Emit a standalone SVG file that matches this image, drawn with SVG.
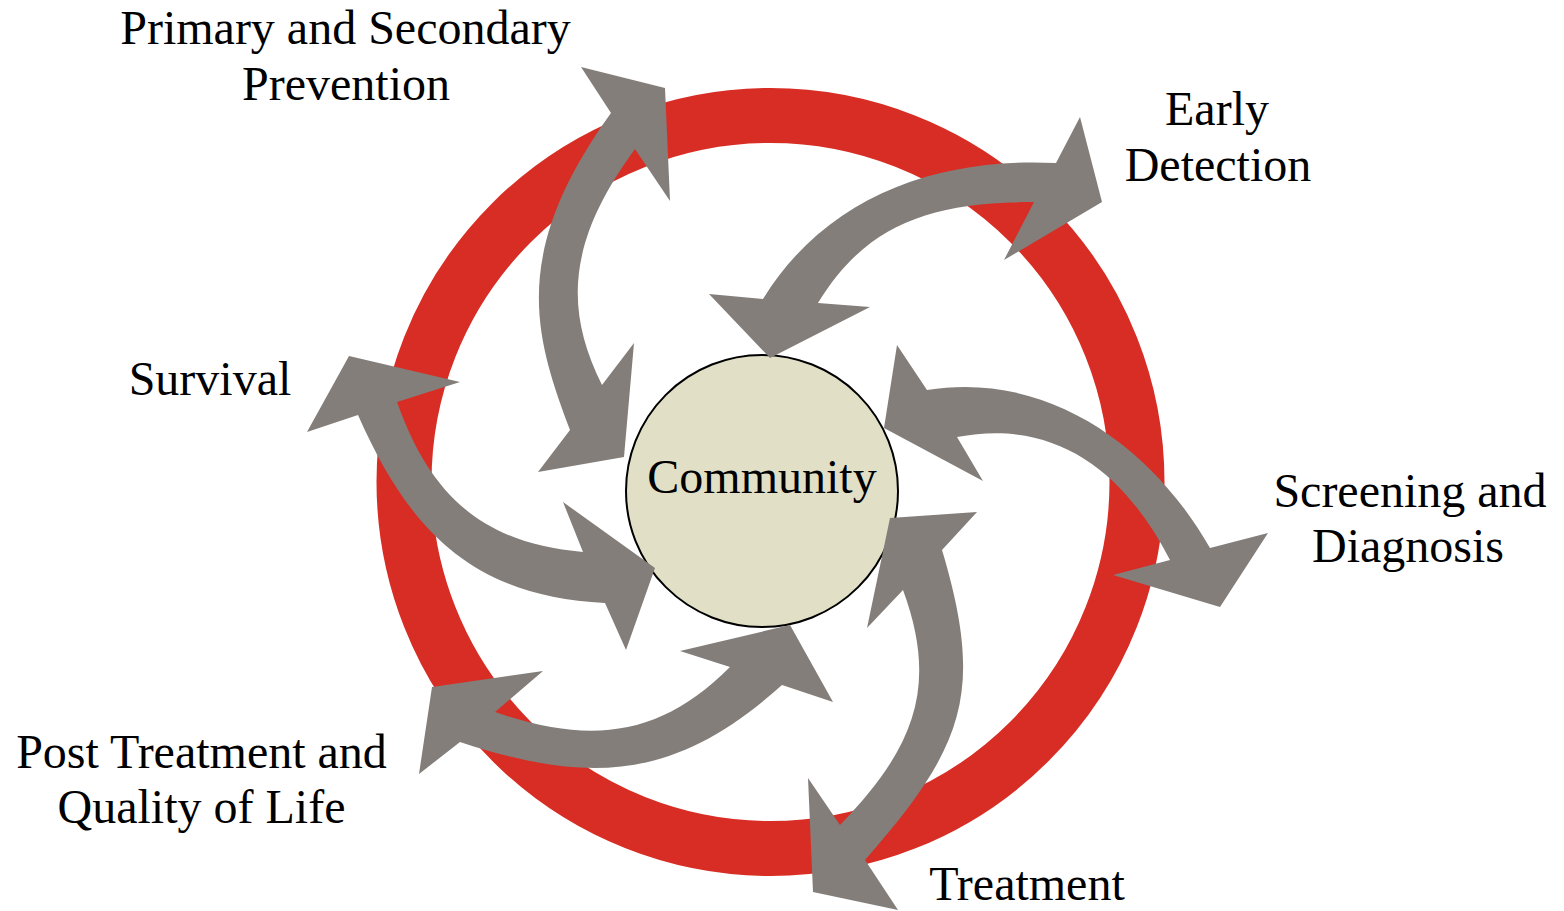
<svg xmlns="http://www.w3.org/2000/svg" width="1564" height="911" viewBox="0 0 1564 911">
<style>
.lbl{font-family:"Liberation Serif","Times New Roman",serif;font-size:48px;fill:#000;text-anchor:middle}
.arw{fill:#837e7a;stroke:none}
</style>
<rect x="0" y="0" width="1564" height="911" fill="#ffffff"/>
<g id="ring">
<circle cx="770.5" cy="482" r="366.5" fill="none" stroke="#d82d24" stroke-width="55"/>
</g>
<g id="community">
<circle cx="762" cy="491" r="136" fill="#e1dfc6" stroke="#000" stroke-width="2"/>
<text class="lbl" x="762" y="493">Community</text>
</g>
<g id="connectors">
<path class="arw" d="M 611,113 C 508.3,255 535.4,337.3 570,430 L 538,472 L 624,457 L 634,343 L 602,385 C 563.3,307.7 568.5,239.6 635,149 L 670,201 L 665,88 L 581,67 Z"/>
<path class="arw" d="M 1056,163 L 1080,117 L 1102,202 L 1004,260 L 1034,202 C 930,202 866,224.4 818,303 L 870,307 L 770,358 L 709,294 L 763,299 C 825.9,196.8 936.1,157 1056,163 Z"/>
<path class="arw" d="M 927,390 C 1045.4,370.8 1150.5,443.8 1210,548 L 1268,533 L 1220,607 L 1113,575 L 1170,560 C 1124.2,471.1 1055.2,418.1 957,437 L 983,481 L 884,428 L 897,345 Z"/>
<path class="arw" d="M 942,550 L 977,512 L 890,518 L 867,628 L 903,590 C 939.4,688.5 912.9,749.4 840,825 L 808,778 L 813,892 L 898,910 L 865,860 C 963.9,747 985,693.7 942,550 Z"/>
<path class="arw" d="M 730,667 L 680,651 L 790,625 L 833,702 L 782,685 C 677.8,778.5 592.9,786.1 460,742 L 419,774 L 432,687 L 543,671 L 495,712 C 589.6,744.5 659.3,737.7 730,667 Z"/>
<path class="arw" d="M 397,402 L 460,382 L 349,356 L 307,432 L 358,415 C 410.5,534 475,596.5 605,603 L 626,650 L 655,568 L 563,502 L 583,552 C 483,543.3 430.5,496.2 397,402 Z"/>
</g>
<g id="prevention">
<text class="lbl" x="345.5" y="44">Primary and Secondary</text>
<text class="lbl" x="346" y="100">Prevention</text>
</g>
<g id="early-detection">
<text class="lbl" x="1217" y="125">Early</text>
<text class="lbl" x="1218" y="181">Detection</text>
</g>
<g id="screening">
<text class="lbl" x="1410" y="507">Screening and</text>
<text class="lbl" x="1408" y="562">Diagnosis</text>
</g>
<g id="treatment">
<text class="lbl" x="1027" y="900">Treatment</text>
</g>
<g id="post-treatment">
<text class="lbl" x="201.5" y="768">Post Treatment and</text>
<text class="lbl" x="201.5" y="823">Quality of Life</text>
</g>
<g id="survival">
<text class="lbl" x="210" y="395">Survival</text>
</g>
</svg>
